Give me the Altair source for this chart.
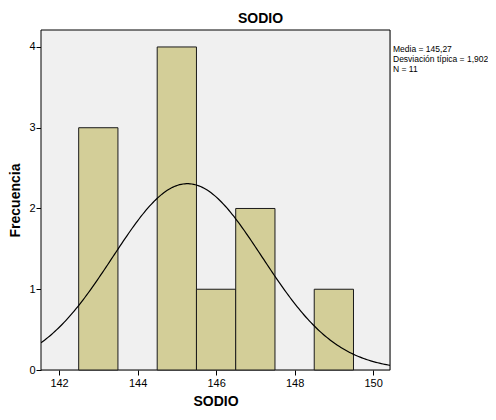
import altair as alt
import numpy as np
import pandas as pd

bin_start = [142.5, 144.5, 145.5, 146.5, 148.5]
bin_end = [143.5, 145.5, 146.5, 147.5, 149.5]
counts = [3, 4, 1, 2, 1]
mean_val = 145.27
sd_val = 1.902
n_val = 11
stats_lines = ["Media = 145,27", "Desviación típica = 1,902", "N = 11"]

bars_df = pd.DataFrame({"x0": bin_start, "x1": bin_end, "c": counts})
xs = np.linspace(141.54, 150.43, 200)
curve_df = pd.DataFrame({"x": xs,
                         "y": n_val * 1.0 / (sd_val * np.sqrt(2 * np.pi)) * np.exp(-0.5 * ((xs - mean_val) / sd_val) ** 2)})
stats_df = pd.DataFrame({"t": stats_lines, "i": [0, 1, 2]})

FONT = "Liberation Sans"
W, H = 349, 340
xdom = [141.54, 150.43]
ydom = [0, 4.21]
xscale = alt.Scale(domain=xdom, nice=False, zero=False)
yscale = alt.Scale(domain=ydom, nice=False)

xaxis = alt.Axis(title="SODIO", values=[142, 144, 146, 148, 150], format="d", grid=False,
                 labelFont=FONT, labelFontSize=11, labelColor="#000", labelPadding=2,
                 titleFont=FONT, titleFontSize=14, titleFontWeight="bold", titleColor="#000",
                 titlePadding=6, tickColor="#000", tickSize=5, domain=False)
yaxis = alt.Axis(title="Frecuencia", values=[0, 1, 2, 3, 4], format="d", grid=False,
                 labelFont=FONT, labelFontSize=11, labelColor="#000", labelPadding=1,
                 titleFont=FONT, titleFontSize=14, titleFontWeight="bold", titleColor="#000",
                 titlePadding=6, tickColor="#000", tickSize=5, domain=False)

frame = alt.Chart(pd.DataFrame({"a": [0]})).mark_rect(fill="#F0F0F0", stroke="#000", strokeWidth=1).encode(
    x=alt.value(0), x2=alt.value(W), y=alt.value(0), y2=alt.value(H),
)

bars = alt.Chart(bars_df).mark_rect(fill="#D3CE98", stroke="#1a1a1a", strokeWidth=1).encode(
    x=alt.X("x0:Q", scale=xscale, axis=xaxis),
    x2="x1:Q",
    y=alt.Y("c:Q", scale=yscale, axis=yaxis),
    y2=alt.datum(0),
)

curve = alt.Chart(curve_df).mark_line(color="#000", strokeWidth=1.2, clip=True).encode(
    x=alt.X("x:Q", scale=xscale),
    y=alt.Y("y:Q", scale=yscale),
)

stats = alt.Chart(stats_df).mark_text(align="left", baseline="top", font=FONT, fontSize=8.5,
                                      color="#000").encode(
    x=alt.value(352),
    y=alt.Y("i:Q", scale=alt.Scale(domain=[0, 34], range=[15, 355]), axis=None),
    text="t:N",
)

chart = alt.layer(alt.layer(frame, bars, curve), stats).resolve_scale(y="independent").properties(
    width=W, height=H,
    title=alt.TitleParams("SODIO", font=FONT, fontSize=14, fontWeight="bold", color="#000",
                          anchor="middle", dx=45, offset=4),
    autosize=alt.AutoSizeParams(type="none"),
    padding={"left": 33, "top": 22, "right": 98, "bottom": 40},
).configure_view(stroke=None).configure(background="white")

chart.save("out.html", embed_options={"renderer": "svg", "actions": False})
